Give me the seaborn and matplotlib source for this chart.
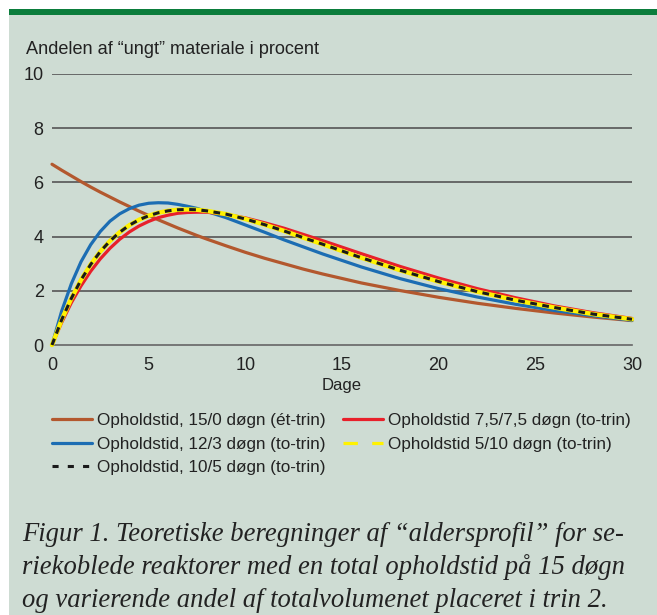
import pandas as pd
import matplotlib
matplotlib.use('Agg')
import matplotlib.pyplot as plt
import seaborn as sns
from matplotlib.lines import Line2D
from matplotlib.patches import Rectangle

# dage (x) og andel "ungt" materiale i procent (y)
dage = [0, 0.5, 1, 1.5, 2, 2.5, 3, 3.5, 4, 4.5, 5, 5.5, 6, 6.5, 7, 7.5, 8, 9, 10, 11,
        12, 13, 14, 16, 18, 20, 22, 24, 26, 28, 30]
et_trin_15_0 = [6.67, 6.45, 6.24, 6.03, 5.83, 5.64, 5.46, 5.28, 5.11, 4.94, 4.78, 4.62, 4.47, 4.32,
                4.18, 4.04, 3.91, 3.66, 3.42, 3.20, 3.00, 2.80, 2.62, 2.29, 2.01, 1.76, 1.54,
                1.35, 1.18, 1.03, 0.90]
to_trin_12_3 = [0.0, 1.25, 2.26, 3.07, 3.70, 4.19, 4.57, 4.84, 5.03, 5.16, 5.23, 5.25, 5.24, 5.19,
                5.12, 5.04, 4.93, 4.70, 4.43, 4.16, 3.88, 3.62, 3.36, 2.88, 2.45, 2.08, 1.77,
                1.50, 1.27, 1.08, 0.91]
to_trin_75_75 = [0.0, 0.83, 1.56, 2.18, 2.72, 3.18, 3.57, 3.90, 4.17, 4.39, 4.56, 4.70, 4.79, 4.86,
                 4.89, 4.90, 4.90, 4.82, 4.69, 4.51, 4.31, 4.08, 3.85, 3.37, 2.90, 2.47, 2.08,
                 1.74, 1.44, 1.19, 0.98]
to_trin_5_10 = [0.0, 0.93, 1.72, 2.40, 2.97, 3.45, 3.84, 4.16, 4.42, 4.62, 4.77, 4.88, 4.95, 4.99,
                5.00, 4.99, 4.95, 4.83, 4.65, 4.44, 4.21, 3.96, 3.72, 3.22, 2.76, 2.34, 1.97,
                1.65, 1.38, 1.14, 0.95]
to_trin_10_5 = [0.0, 0.93, 1.72, 2.40, 2.97, 3.45, 3.84, 4.16, 4.42, 4.62, 4.77, 4.88, 4.95, 4.99,
                5.00, 4.99, 4.95, 4.83, 4.65, 4.44, 4.21, 3.96, 3.72, 3.22, 2.76, 2.34, 1.97,
                1.65, 1.38, 1.14, 0.95]

labels = ['Opholdstid, 15/0 døgn (ét-trin)',
          'Opholdstid, 12/3 døgn (to-trin)',
          'Opholdstid 7,5/7,5 døgn (to-trin)',
          'Opholdstid 5/10 døgn (to-trin)',
          'Opholdstid, 10/5 døgn (to-trin)']
y_ticks = [0, 2, 4, 6, 8, 10]
x_ticks = [0, 5, 10, 15, 20, 25, 30]

caption = ['Figur 1. Teoretiske beregninger af “aldersprofil” for se-',
           'riekoblede reaktorer med en total opholdstid på 15 døgn',
           'og varierende andel af totalvolumenet placeret i trin 2.']

BG = '#cedcd3'
GREEN = '#0b7d3c'
BROWN = '#b3582e'
BLUE = '#1c6db3'
RED = '#e8202a'
YELLOW = '#fff200'
GRID = '#555555'

sns.set_style('white')
plt.rcParams['font.family'] = ['Liberation Sans', 'DejaVu Sans']

W, H = 657, 615
fig = plt.figure(figsize=(W / 100, H / 100), dpi=100)
fig.patch.set_facecolor('white')

# panel baggrund og grøn bjælke
fig.patches.append(Rectangle((9 / W, 0), 1 - 9 / W, 1 - 15 / H, transform=fig.transFigure,
                             facecolor=BG, edgecolor='none', zorder=-10))
fig.patches.append(Rectangle((9 / W, 1 - 15 / H), 1 - 9 / W, 6 / H, transform=fig.transFigure,
                             facecolor=GREEN, edgecolor='none', zorder=-10))

ax = fig.add_axes([52 / W, 1 - 345 / H, 580 / W, 271 / H])
ax.set_facecolor('none')

df = pd.DataFrame({'dage': dage, 'brown': et_trin_15_0, 'blue': to_trin_12_3,
                   'red': to_trin_75_75, 'yellow': to_trin_5_10, 'black': to_trin_10_5})

for yv in y_ticks[1:]:
    ax.axhline(yv, color=GRID, lw=1.2, zorder=1)

sns.lineplot(data=df, x='dage', y='brown', ax=ax, color=BROWN, lw=2.3, zorder=3, clip_on=False)
sns.lineplot(data=df, x='dage', y='blue', ax=ax, color=BLUE, lw=2.3, zorder=4, clip_on=False)
sns.lineplot(data=df, x='dage', y='red', ax=ax, color=RED, lw=2.3, zorder=5, clip_on=False)
sns.lineplot(data=df, x='dage', y='yellow', ax=ax, color=YELLOW, lw=3.2, zorder=6, clip_on=False)
sns.lineplot(data=df, x='dage', y='black', ax=ax, color='#1a1a1a', lw=2.2, zorder=7,
             clip_on=False, dashes=False, linestyle=(0, (2.2, 1.8)))

ax.set_xlim(0, 30)
ax.set_ylim(0, 10)
ax.set_xticks(x_ticks)
ax.set_yticks(y_ticks)
for s in ['left', 'right', 'top']:
    ax.spines[s].set_visible(False)
ax.spines['bottom'].set_color('#666666')
ax.spines['bottom'].set_linewidth(1.2)
ax.tick_params(axis='x', length=4.5, width=1.2, color='#666666', pad=4, labelsize=13, labelcolor='#222222')
ax.tick_params(axis='y', length=0, pad=6, labelsize=13, labelcolor='#222222')
ax.set_xlabel('Dage', fontsize=12, color='#222222', labelpad=3)
ax.set_ylabel('')

fig.text(26 / W, 1 - 50 / H, 'Andelen af “ungt” materiale i procent', fontsize=13.1,
         color='#222222', va='center', ha='left')

handles = [Line2D([], [], color=BROWN, lw=2.3),
           Line2D([], [], color=BLUE, lw=2.3),
           Line2D([], [], color='#1a1a1a', lw=2.2, linestyle=(0, (2.0, 3.0))),
           Line2D([], [], color=RED, lw=2.3),
           Line2D([], [], color=YELLOW, lw=2.3, linestyle=(0, (4.5, 4.5)))]
leg_labels = [labels[0], labels[1], labels[4], labels[2], labels[3]]
fig.legend(handles, leg_labels, loc='upper left', bbox_to_anchor=(52 / W, 1 - 413 / H),
           ncol=2, frameon=False, fontsize=12.3, borderpad=0, borderaxespad=0,
           handlelength=2.35, handletextpad=0.3, columnspacing=1.0, labelspacing=0.5,
           labelcolor='#222222')

for i, line in enumerate(caption):
    fig.text(22 / W, 1 - (541 + 33 * i) / H, line, fontsize=19.2, style='italic',
             family=['Liberation Serif', 'DejaVu Serif'], color='#222222', va='baseline', ha='left')

fig.savefig('out.png', dpi=100, facecolor=fig.get_facecolor())
